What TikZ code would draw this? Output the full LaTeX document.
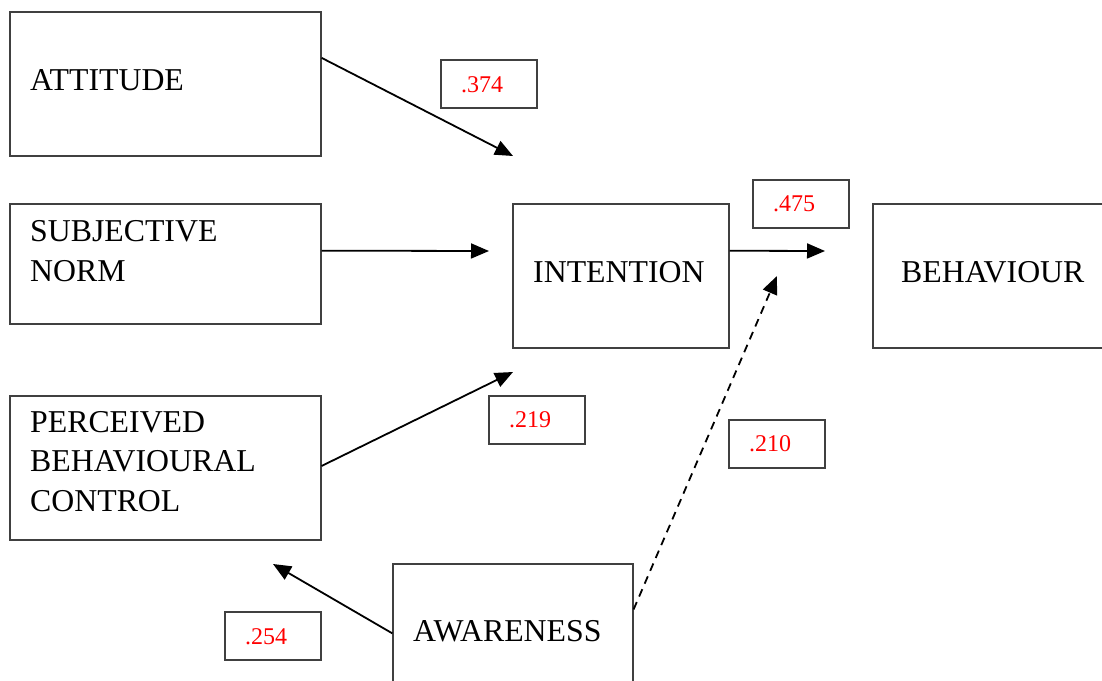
\documentclass[tikz,border=0pt]{standalone}
\usepackage{fontspec}
\setmainfont{Liberation Serif}
\usetikzlibrary{arrows.meta,calc}

\begin{document}
\begin{tikzpicture}[x=1pt,y=-1pt,
  box/.style={draw=black!75,line width=1.2pt,fill=white,rectangle,inner sep=0pt},
  coef/.style={box,minimum width=96pt,minimum height=48pt},
  term/.style={inner sep=0pt,anchor=base west,align=left,
    font=\fontsize{31.8}{39.5}\selectfont},
  val/.style={inner sep=0pt,anchor=base west,text=red,
    font=\fontsize{24}{28}\selectfont},
  path/.style={line width=1.8pt,-{Triangle[length=18pt,width=15pt]}},
  hint/.style={path,dash pattern=on 8pt off 6pt}]
\useasboundingbox (0,0) rectangle (1102,680);
\clip (0,0) rectangle (1102,680);

% construct boxes
\node[box,minimum width=311pt,minimum height=144pt] (att) at (165.5,84) {};
\node[box,minimum width=311pt,minimum height=120pt] (sn)  at (165.5,264) {};
\node[box,minimum width=311pt,minimum height=144pt] (pbc) at (165.5,468) {};
\node[box,minimum width=216pt,minimum height=144pt] (int) at (621,276) {};
\node[box,minimum width=260pt,minimum height=144pt] (beh) at (1003,276) {};
\node[box,minimum width=240pt,minimum height=140pt] (aw)  at (513,634) {};

% multi-line labels sit on the baseline of their last line
\node[term] (attT) at (30,90)  {ATTITUDE};
\node[term] (snT)  at (30,281) {SUBJECTIVE\\NORM};
\node[term] (pbcT) at (30,511) {PERCEIVED\\BEHAVIOURAL\\CONTROL};
\node[term] (intT) at (533,282) {INTENTION};
\node[term] (behT) at (901,282) {BEHAVIOUR};
\node[term] (awT)  at (413,641) {AWARENESS};

% path coefficients
\node[coef] (c1) at (489,84)  {};
\node[coef] (c2) at (801,204) {};
\node[coef] (c3) at (537,420) {};
\node[coef] (c4) at (777,444) {};
\node[coef] (c5) at (273,636) {};
\node[val] at (461,92)  {.374};
\node[val] at (773,211) {.475};
\node[val] at (509,427) {.219};
\node[val] at (749,451) {.210};
\node[val] at (245,644) {.254};

% arrow tips
\coordinate (attTip) at (513,156);
\coordinate (snTip)  at (489,251);
\coordinate (pbcTip) at (513,372);
\coordinate (intTip) at (825,251);
\coordinate (awTip)  at (273,564);
\coordinate (hintTip) at (777,276);

\draw[path] ($(att.north east)!0.32!(att.south east)$) -- (attTip);
\draw[path] ($(sn.north east)!0.39!(sn.south east)$) -- (snTip);
\draw[path] ($(pbc.north east)!0.486!(pbc.south east)$) -- (pbcTip);
\draw[path] ($(int.north east)!0.326!(int.south east)$) -- (intTip);
\draw[path] ($(aw.north west)+(0,70)$) -- (awTip);
\draw[hint] ($(aw.north east)+(0,46)$) -- (hintTip);
\end{tikzpicture}
\end{document}
